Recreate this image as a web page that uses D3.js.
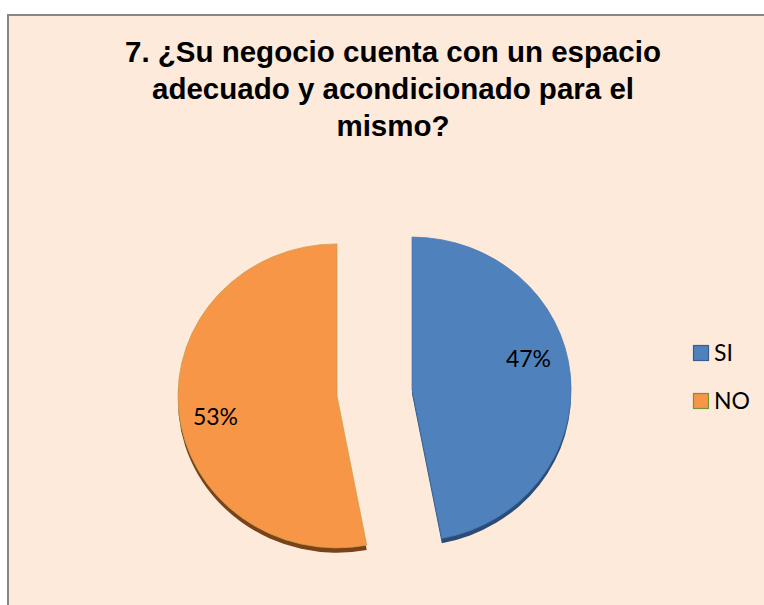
<!DOCTYPE html>
<html>
<head>
<meta charset="utf-8">
<script src="https://cdn.jsdelivr.net/npm/d3@7"></script>
<style>
  html, body { margin: 0; padding: 0; background: #ffffff; }
  svg { display: block; }
</style>
</head>
<body>
<svg id="chart" width="764" height="605"></svg>
<script>
// ---- data ----
const categories = ["SI", "NO"];
const values = [47, 53];
const labels = ["47%", "53%"];
const colors = ["#4F81BD", "#F79646"];
const sideColors = ["#2B4C77", "#7A4219"];
const legendStroke = ["#385D8A", "#77933C"];
const titleLines = [
  "7. ¿Su negocio cuenta con un espacio",
  "adecuado y acondicionado para el",
  "mismo?"
];

const svg = d3.select("#chart");
const W = 764, H = 605;

// background panel
svg.append("rect").attr("x", 0).attr("y", 0).attr("width", W).attr("height", H).attr("fill", "#ffffff");
svg.append("rect")
  .attr("x", 8).attr("y", 15).attr("width", W + 10).attr("height", H + 10)
  .attr("fill", "#FDEADA").attr("stroke", "#878787").attr("stroke-width", 2);

// title
const title = svg.append("text")
  .attr("text-anchor", "middle")
  .attr("font-family", "'Liberation Sans', Arial, sans-serif")
  .attr("font-weight", "bold")
  .attr("font-size", 29.5)
  .attr("fill", "#000");
titleLines.forEach((t, i) => {
  title.append("tspan").attr("x", 393).attr("y", 62 + i * 37).text(t);
});

// pie
const cx = 374.5, cy = 392.5;
const R = 159, ry = 152;
const explode = 37.7;
const depth = 5;

const pie = d3.pie().sort(null).value(d => d)(values);
const arc = d3.arc().innerRadius(0).outerRadius(R);

const pg = svg.append("g")
  .attr("transform", `translate(${cx},${cy}) scale(1,${ry / R})`);

const sl = pg.selectAll("g.slice").data(pie).join("g")
  .attr("class", "slice")
  .attr("transform", d => {
    const m = (d.startAngle + d.endAngle) / 2;
    return `translate(${explode * Math.sin(m)},${-explode * Math.cos(m)})`;
  });

// side (depth)
sl.append("path")
  .attr("d", arc)
  .attr("transform", `translate(0,${depth})`)
  .attr("fill", (d, i) => sideColors[i]);

// top face
sl.append("path")
  .attr("d", arc)
  .attr("fill", (d, i) => colors[i])
  .attr("stroke", (d, i) => i === 1 ? "#C9A04E" : "#4A78B0")
  .attr("stroke-width", 0.8);

// labels
const labelArc = d3.arc().innerRadius(121).outerRadius(121);
const nudges = [[-4, -19], [-1, 10]];
svg.selectAll("text.lbl").data(pie).join("text")
  .attr("class", "lbl")
  .attr("text-anchor", "middle")
  .attr("font-family", "Lato, 'Open Sans', sans-serif")
  .attr("font-size", 23)
  .attr("fill", "#000")
  .attr("x", (d, i) => {
    const m = (d.startAngle + d.endAngle) / 2;
    return cx + explode * Math.sin(m) + labelArc.centroid(d)[0] + nudges[i][0];
  })
  .attr("y", (d, i) => {
    const m = (d.startAngle + d.endAngle) / 2;
    return cy + (-explode * Math.cos(m) + labelArc.centroid(d)[1]) * (ry / R) + nudges[i][1] + 8;
  })
  .text((d, i) => labels[i]);

// legend
const lg = svg.append("g").attr("transform", "translate(693,345)");
const items = lg.selectAll("g").data(categories).join("g")
  .attr("transform", (d, i) => `translate(0,${i * 48})`);
items.append("rect")
  .attr("x", 0.5).attr("y", 0.5).attr("width", 15).attr("height", 15)
  .attr("fill", (d, i) => colors[i])
  .attr("stroke", (d, i) => legendStroke[i]).attr("stroke-width", 1.2);
items.append("text")
  .attr("x", 21).attr("y", 16)
  .attr("font-family", "Lato, 'Open Sans', sans-serif")
  .attr("font-size", 23)
  .attr("fill", "#000")
  .text(d => d);
</script>
</body>
</html>
